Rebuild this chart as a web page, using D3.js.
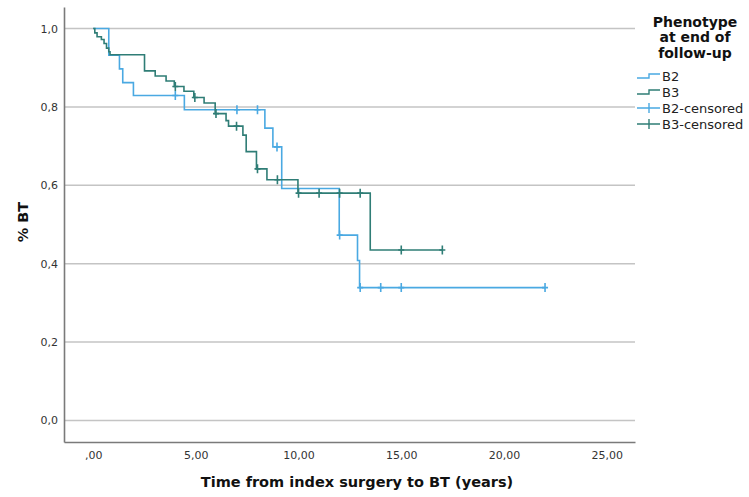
<!DOCTYPE html>
<html>
<head>
<meta charset="utf-8">
<script src="https://cdn.jsdelivr.net/npm/d3@7"></script>
<style>
  html, body { margin: 0; padding: 0; background: #fff; }
  svg { display: block; }
  text { font-family: "DejaVu Sans", sans-serif; }
</style>
</head>
<body>
<svg id="chart" width="749" height="497"></svg>
<script>
// Kaplan-Meier estimates: step times (years) and survival after each step
const b2Times = [0, 0.76, 1.28, 1.44, 1.96, 4.44, 8.36, 8.75, 9.18, 11.98, 12.87, 12.97, 22.0];
const b2Surv  = [1.0, 0.932, 0.897, 0.862, 0.829, 0.793, 0.746, 0.698, 0.592, 0.473, 0.408, 0.339, 0.339];
const b2Censored = [4.0, 7.0, 8.0, 8.95, 12.0, 13.0, 14.0, 15.0, 22.0];

const b3Times = [0, 0.08, 0.19, 0.40, 0.53, 0.65, 0.76, 0.82, 2.50, 3.02, 3.55, 3.95, 4.42, 4.90,
                 5.40, 5.94, 6.47, 6.59, 7.29, 7.45, 7.95, 8.46, 9.97, 13.49, 17.0];
const b3Surv  = [1.0, 0.989, 0.979, 0.972, 0.962, 0.950, 0.941, 0.933, 0.892, 0.879, 0.866, 0.852, 0.840, 0.824,
                 0.810, 0.783, 0.765, 0.751, 0.728, 0.686, 0.642, 0.614, 0.580, 0.435, 0.435];
const b3Censored = [4.0, 4.95, 5.98, 6.98, 8.0, 8.97, 10.0, 11.0, 12.0, 13.0, 15.0, 17.0];

const xTicks = [0, 5, 10, 15, 20, 25];
const xTickLabels = [",00", "5,00", "10,00", "15,00", "20,00", "25,00"];
const yTicks = [0, 0.2, 0.4, 0.6, 0.8, 1.0];
const yTickLabels = ["0,0", "0,2", "0,4", "0,6", "0,8", "1,0"];

const groups = ["B2", "B3"];
const legendLabels = ["B2", "B3", "B2-censored", "B3-censored"];
const colors = { B2: "#4aa9e2", B3: "#2f7d76" };

const svg = d3.select("#chart");
const plot = { left: 64, right: 635, top: 7, bottom: 442 };

const x = d3.scaleLinear().domain([-1.42, 26.38]).range([plot.left, plot.right]);
const y = d3.scaleLinear().domain([-0.055, 1.055]).range([plot.bottom, plot.top]);

// horizontal grid lines
svg.append("g")
  .selectAll("line")
  .data(yTicks)
  .join("line")
  .attr("x1", plot.left).attr("x2", plot.right)
  .attr("y1", d => y(d)).attr("y2", d => y(d))
  .attr("stroke", "#c4c4c4").attr("stroke-width", 1.5);

// axes
const xAxis = d3.axisBottom(x)
  .tickValues(xTicks)
  .tickFormat((d, i) => xTickLabels[i])
  .tickSize(0).tickPadding(9);
const yAxis = d3.axisLeft(y)
  .tickValues(yTicks)
  .tickFormat((d, i) => yTickLabels[i])
  .tickSize(0).tickPadding(6);

const gx = svg.append("g").attr("transform", `translate(0,${plot.bottom})`).call(xAxis);
const gy = svg.append("g").attr("transform", `translate(${plot.left},0)`).call(yAxis);
[gx, gy].forEach(g => {
  g.select(".domain").attr("stroke", "#7a7a7a").attr("stroke-width", 1.6);
  g.selectAll("text").attr("fill", "#333").attr("font-size", 11)
    .attr("font-family", "DejaVu Sans, sans-serif");
});

// axis titles
svg.append("text")
  .attr("x", 357).attr("y", 487)
  .attr("text-anchor", "middle")
  .attr("font-weight", "bold").attr("font-size", 14.5).attr("fill", "#111")
  .text("Time from index surgery to BT (years)");
svg.append("text")
  .attr("transform", `translate(28,222) rotate(-90)`)
  .attr("text-anchor", "middle")
  .attr("font-weight", "bold").attr("font-size", 14.5).attr("fill", "#111")
  .text("% BT");

// survival curves
const series = {
  B2: { times: b2Times, surv: b2Surv, censored: b2Censored },
  B3: { times: b3Times, surv: b3Surv, censored: b3Censored }
};
const stepLine = d3.line().curve(d3.curveStepAfter).x(d => x(d[0])).y(d => y(d[1]));
const survAt = (s, t) => s.surv[d3.bisectRight(s.times, t) - 1];

groups.forEach(name => {
  const s = series[name];
  const pts = s.times.map((t, i) => [t, s.surv[i]]);
  const g = svg.append("g");
  g.append("path")
    .attr("d", stepLine(pts))
    .attr("fill", "none")
    .attr("stroke", colors[name]).attr("stroke-width", 1.6);
  // censor marks
  g.selectAll("path.censor")
    .data(s.censored)
    .join("path")
    .attr("class", "censor")
    .attr("d", t => {
      const cx = x(t), cy = y(survAt(s, t));
      return `M${cx},${cy - 4.5}V${cy + 4.5}M${cx - 3},${cy}H${cx + 3}`;
    })
    .attr("stroke", colors[name]).attr("stroke-width", 1.6).attr("fill", "none");
});

// legend
const lg = svg.append("g");
["Phenotype", "at end of", "follow-up"].forEach((t, i) => {
  lg.append("text")
    .attr("x", 695).attr("y", 26.5 + i * 15.6)
    .attr("text-anchor", "middle")
    .attr("font-weight", "bold").attr("font-size", 14).attr("fill", "#111")
    .text(t);
});
const rowY = [76, 92, 108, 124];
legendLabels.forEach((label, i) => {
  const cy = rowY[i];
  const col = colors[label.slice(0, 2)];
  const sym = i < 2
    ? `M637,${cy + 2}H649V${cy - 2}H660`
    : `M637,${cy}H660M649,${cy - 5}V${cy + 5}`;
  lg.append("path").attr("d", sym)
    .attr("fill", "none").attr("stroke", col).attr("stroke-width", 1.4);
  lg.append("text")
    .attr("x", 662).attr("y", cy + 4.5)
    .attr("font-size", 13).attr("fill", "#222")
    .text(label);
});
</script>
</body>
</html>
